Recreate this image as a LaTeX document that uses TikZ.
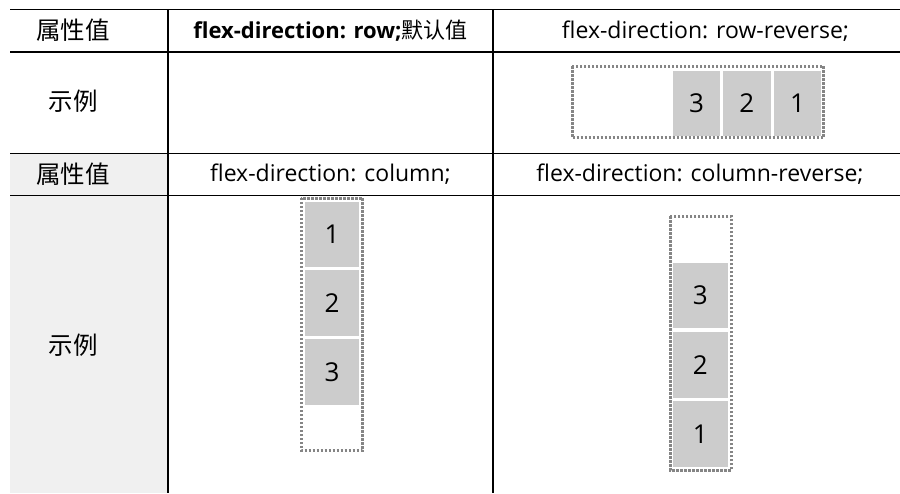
\documentclass[tikz,border=0pt]{standalone}
\usepackage{fontspec}
\setmainfont{Open Sans}
\newfontfamily\cjk{Noto Sans CJK SC}
\definecolor{itemgray}{HTML}{CCCCCC}
\definecolor{colbg}{HTML}{F0F0F0}
\definecolor{dotgray}{HTML}{858585}
\begin{document}
\begin{tikzpicture}[x=1pt,y=-1pt,
  item/.style={fill=itemgray, inner sep=0pt, font=\fontsize{26}{26}\selectfont},
  rowitem/.style={item, minimum width=47.5pt, minimum height=65.3pt},
  colitem/.style={item, minimum width=54.5pt, minimum height=65.5pt},
  cont/.style={draw=dotgray, line width=3pt, dash pattern=on 2.4pt off 1.6pt},
  gridline/.style={line width=1.4pt},
  hdr/.style={inner sep=0pt, font=\fontsize{23}{26}\selectfont},
  hdrb/.style={inner sep=0pt, font=\fontsize{22}{26}\selectfont},
  zh/.style={inner sep=0pt, font=\cjk\fontsize{24.5}{25}\selectfont}]
\useasboundingbox (0,0) rectangle (900,493);
\fill[white] (0,0) rectangle (900,493);
% shaded label column of lower half
\fill[colbg] (10,153.5) rectangle (168,493);
% grid
\draw[gridline] (10,9.5) -- (900,9.5);
\draw[gridline] (10,52) -- (900,52);
\draw[gridline] (10,153.5) -- (900,153.5);
\draw[line width=1.9pt] (10,195.5) -- (900,195.5);
\draw[gridline] (168,9.5) -- (168,493);
\draw[gridline] (493,9.5) -- (493,493);
% texts
\node[zh] (h1) at (73,30.5) {属性值};
\node[hdrb] (h1a) at (330.5,31) {\textbf{flex-direction: row;}{\cjk 默认值}};
\node[hdr] (h1b) at (705.5,31) {flex-direction: row-reverse;};
\node[zh] (e1) at (73,101) {示例};
\node[zh] (h2) at (73,174) {属性值};
\node[hdr] (h2a) at (330.5,174.5) {flex-direction: column;};
\node[hdr] (h2b) at (700,174.5) {flex-direction: column-reverse;};
\node[zh] (e2) at (73,345) {示例};
% row-reverse
\draw[cont] (572,66.3) rectangle (823.7,137.7);
\node[rowitem] (rr3) at (696.5,103.3) {3};
\node[rowitem] (rr2) at (746.9,103.3) {2};
\node[rowitem] (rr1) at (797.5,103.3) {1};
% column
\draw[cont] (301.3,198) rectangle (362.7,450.7);
\node[colitem] (c1) at (332,234.3) {1};
\node[colitem] (c2) at (332,302.8) {2};
\node[colitem] (c3) at (332,372) {3};
% column-reverse
\draw[cont] (670.3,216.3) rectangle (731.3,470.3);
\node[colitem] (cr3) at (700.3,295.3) {3};
\node[colitem] (cr2) at (700.3,364.8) {2};
\node[colitem] (cr1) at (700.3,434.2) {1};
\end{tikzpicture}
\end{document}
